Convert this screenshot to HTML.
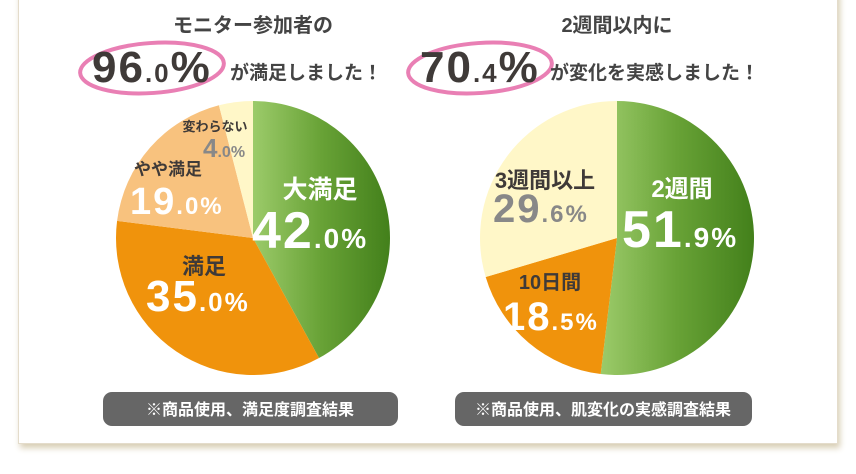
<!DOCTYPE html>
<html><head><meta charset="utf-8"><style>
body{margin:0;width:856px;height:474px;background:#fff;overflow:hidden;font-family:"Liberation Sans","Noto Sans CJK JP",sans-serif;}
.card{position:absolute;left:18px;top:-10px;width:818px;height:452px;background:#fff;border:1px solid #e4dccb;box-shadow:2px 4px 6px #d8ceb4;}
svg{position:absolute;left:0;top:0}
.n{letter-spacing:2px}
</style></head><body>
<div class="card"></div>
<svg width="856" height="474">
<defs>
<linearGradient id="g1" gradientUnits="userSpaceOnUse" x1="253" x2="390" y1="0" y2="0"><stop offset="0" stop-color="#9ccb6a"/><stop offset="0.5" stop-color="#68a236"/><stop offset="1" stop-color="#43801b"/></linearGradient>
<linearGradient id="g2" gradientUnits="userSpaceOnUse" x1="600" x2="754" y1="0" y2="0"><stop offset="0" stop-color="#9ccb6a"/><stop offset="0.5" stop-color="#68a236"/><stop offset="1" stop-color="#43801b"/></linearGradient>
</defs>
<g font-weight="bold" fill="#444">
<ellipse cx="152" cy="68" rx="72" ry="25" fill="none" stroke="#e97fb4" stroke-width="4" transform="rotate(-4 152 68)"/>
<text x="253" y="32" font-size="20" text-anchor="middle">モニター参加者の</text>
<text class="n" x="92" y="82" font-size="44" fill="#3f3a38">96<tspan font-size="26">.0</tspan>%</text>
<text x="230" y="79" font-size="19">が満足しました！</text>
</g>
<g font-weight="bold" fill="#444">
<ellipse cx="480" cy="68" rx="72" ry="25" fill="none" stroke="#e97fb4" stroke-width="4" transform="rotate(-4 480 68)"/>
<text x="617" y="32" font-size="20" text-anchor="middle">2週間以内に</text>
<text class="n" x="420" y="82" font-size="44" fill="#3f3a38">70<tspan font-size="26">.4</tspan>%</text>
<text x="550" y="79" font-size="19">が変化を実感しました！</text>
</g>
<g id="p1"></g><g id="p2"></g>
<g font-weight="bold">
<text x="320" y="198" font-size="25" fill="#fff" text-anchor="middle">大満足</text>
<text class="n" x="252" y="248" font-size="52" fill="#fff">42<tspan font-size="28">.0%</tspan></text>
<text x="204" y="274" font-size="22" fill="#3f3a38" text-anchor="middle">満足</text>
<text class="n" x="146" y="311" font-size="44" fill="#fff">35<tspan font-size="26">.0%</tspan></text>
<text x="168" y="175" font-size="17" fill="#3f3a38" text-anchor="middle">やや満足</text>
<text class="n" x="130" y="214" font-size="38" fill="#fff">19<tspan font-size="24">.0%</tspan></text>
<text x="215" y="131" font-size="13" fill="#3f3a38" text-anchor="middle">変わらない</text>
<text x="203" y="157" font-size="26" fill="#888">4<tspan font-size="16">.0%</tspan></text>
</g>
<g font-weight="bold">
<text x="682" y="197" font-size="24" fill="#fff" text-anchor="middle">2週間</text>
<text class="n" x="622" y="247" font-size="52" fill="#fff">51<tspan font-size="28">.9%</tspan></text>
<text x="545" y="188" font-size="22" fill="#3f3a38" text-anchor="middle">3週間以上</text>
<text class="n" x="493" y="222" font-size="40" fill="#888">29<tspan font-size="24">.6%</tspan></text>
<text x="550" y="289" font-size="20" fill="#3f3a38" text-anchor="middle">10日間</text>
<text class="n" x="503" y="330" font-size="40" fill="#fff">18<tspan font-size="24">.5%</tspan></text>
</g>
<g><rect x="103" y="392" width="295" height="34" rx="9" fill="#666"/><text x="250" y="415" font-size="16" font-weight="bold" fill="#fff" text-anchor="middle">※商品使用、満足度調査結果</text></g>
<g><rect x="455" y="392" width="297" height="34" rx="9" fill="#666"/><text x="603" y="415" font-size="16" font-weight="bold" fill="#fff" text-anchor="middle">※商品使用、肌変化の実感調査結果</text></g>
</svg>
<script>
const pie1Cats=["大満足","満足","やや満足","変わらない"];
const pie1Vals=[42.0,35.0,19.0,4.0];
const pie2Cats=["2週間","10日間","3週間以上"];
const pie2Vals=[51.9,18.5,29.6];
const cols1=["url(#g1)","#f0930c","#f8c27e","#fff7c8"];
const cols2=["url(#g2)","#f0930c","#fff7c8"];
function draw(id,cx,cy,r,vals,cols,name){
  const g=document.getElementById(id);
  const tot=vals.reduce((a,b)=>a+b,0);let a=0;
  vals.forEach((v,i)=>{
    const a0=a/tot*2*Math.PI;a+=v;const a1=a/tot*2*Math.PI;
    const x0=cx+r*Math.sin(a0),y0=cy-r*Math.cos(a0),x1=cx+r*Math.sin(a1),y1=cy-r*Math.cos(a1);
    const p=document.createElementNS("http://www.w3.org/2000/svg","path");
    p.setAttribute("d",`M${cx},${cy}L${x0},${y0}A${r},${r} 0 ${(a1-a0)>Math.PI?1:0} 1 ${x1},${y1}Z`);
    p.setAttribute("fill",cols[i]);
    
    
    g.appendChild(p);
  });
}
draw("p1",253,238,137,pie1Vals,cols1,"pie1");
draw("p2",617,238,137,pie2Vals,cols2,"pie2");
</script>
</body></html>
